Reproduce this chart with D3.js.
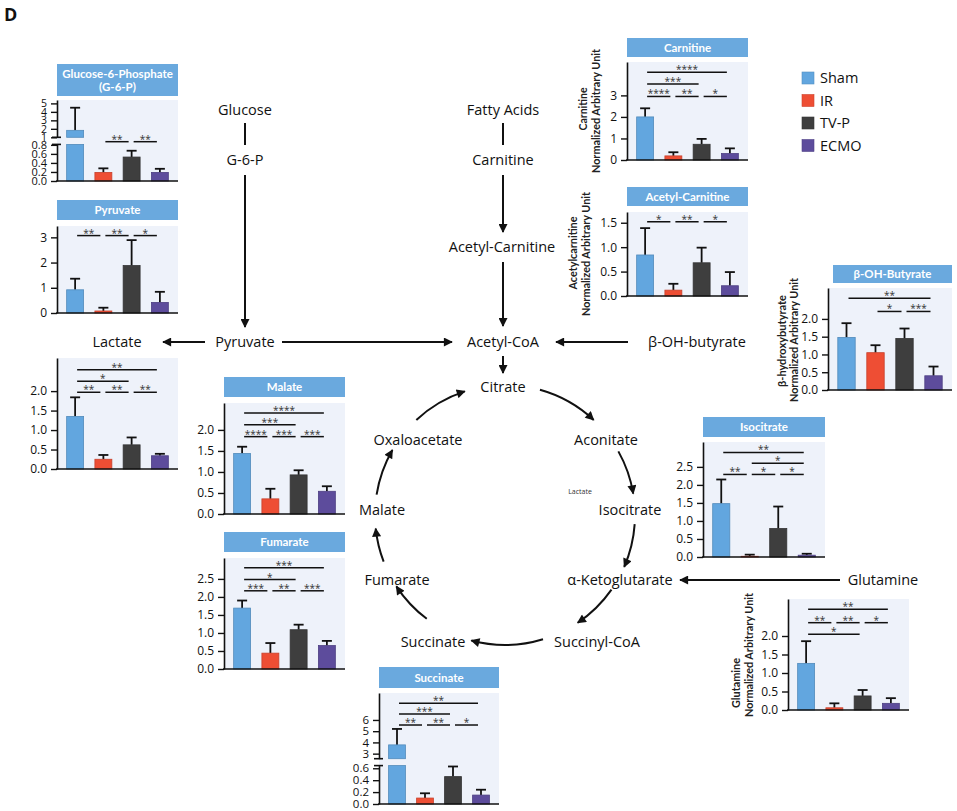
<!DOCTYPE html>
<html><head><meta charset="utf-8">
<script src="https://cdn.jsdelivr.net/npm/d3@7"></script>
<style>body{margin:0;background:#fff} svg{display:block}</style>
</head><body>
<svg id="c" width="957" height="811"></svg>
<script>
// ---------------- DATA ----------------
const groups = ["Sham", "IR", "TV-P", "ECMO"];

const g6pMean = [1.82, 0.19, 0.53, 0.19];
const g6pErr  = [2.67, 0.09, 0.14, 0.08];
const g6pTicksLow  = [0, 0.2, 0.4, 0.6, 0.8];
const g6pTicksHigh = [1, 2, 3, 4, 5];
const g6pSig = [[1, 2, "**", 0.87], [2, 3, "**", 0.87]];

const pyruvateMean = [0.92, 0.08, 1.88, 0.42];
const pyruvateErr  = [0.44, 0.13, 1.01, 0.42];
const pyruvateTicks = [0, 1, 2, 3];
const pyruvateSig = [[0, 1, "**", 3.07], [1, 2, "**", 3.07], [2, 3, "*", 3.07]];

const lactateMean = [1.35, 0.25, 0.62, 0.34];
const lactateErr  = [0.49, 0.11, 0.19, 0.05];
const lactateTicks = [0, 0.5, 1.0, 1.5, 2.0];
const lactateSig = [[0, 3, "**", 2.55], [0, 2, "*", 2.25], [0, 1, "**", 1.97], [1, 2, "**", 1.97], [2, 3, "**", 1.97]];

const carnitineMean = [2.0, 0.19, 0.73, 0.30];
const carnitineErr  = [0.40, 0.17, 0.25, 0.24];
const carnitineTicks = [0, 1, 2, 3];
const carnitineSig = [[0, 3, "****", 4.07], [0, 2, "***", 3.53], [0, 1, "****", 2.95], [1, 2, "**", 2.95], [2, 3, "*", 2.95]];

const acCarnMean = [0.84, 0.12, 0.68, 0.21];
const acCarnErr  = [0.55, 0.13, 0.31, 0.28];
const acCarnTicks = [0, 0.5, 1.0, 1.5];
const acCarnSig = [[0, 1, "*", 1.52], [1, 2, "**", 1.52], [2, 3, "*", 1.52]];

const bohbMean = [1.48, 1.05, 1.45, 0.40];
const bohbErr  = [0.40, 0.21, 0.28, 0.26];
const bohbTicks = [0, 0.5, 1.0, 1.5, 2.0];
const bohbSig = [[0, 3, "**", 2.58], [1, 2, "*", 2.21], [2, 3, "***", 2.21]];

const malateMean = [1.44, 0.36, 0.93, 0.54];
const malateErr  = [0.16, 0.24, 0.11, 0.12];
const malateTicks = [0, 0.5, 1.0, 1.5, 2.0];
const malateSig = [[0, 3, "****", 2.40], [0, 2, "***", 2.12], [0, 1, "****", 1.84], [1, 2, "***", 1.84], [2, 3, "***", 1.84]];

const fumarateMean = [1.69, 0.44, 1.09, 0.65];
const fumarateErr  = [0.21, 0.28, 0.14, 0.13];
const fumarateTicks = [0, 0.5, 1.0, 1.5, 2.0, 2.5];
const fumarateSig = [[0, 3, "***", 2.81], [0, 2, "*", 2.48], [0, 1, "***", 2.17], [1, 2, "**", 2.17], [2, 3, "***", 2.17]];

const isocitrateMean = [1.48, 0.02, 0.79, 0.05];
const isocitrateErr  = [0.67, 0.045, 0.61, 0.04];
const isocitrateTicks = [0, 0.5, 1.0, 1.5, 2.0, 2.5];
const isocitrateSig = [[0, 3, "**", 2.90], [1, 3, "*", 2.60], [0, 1, "**", 2.29], [1, 2, "*", 2.29], [2, 3, "*", 2.29]];

const glutamineMean = [1.26, 0.06, 0.38, 0.18];
const glutamineErr  = [0.60, 0.12, 0.16, 0.14];
const glutamineTicks = [0, 0.5, 1.0, 1.5, 2.0];
const glutamineSig = [[0, 3, "**", 2.72], [0, 1, "**", 2.36], [1, 2, "**", 2.36], [2, 3, "*", 2.36], [0, 2, "*", 2.05]];

const succinateMean = [3.78, 0.10, 0.46, 0.15];
const succinateErr  = [1.42, 0.08, 0.17, 0.09];
const succinateTicksLow  = [0, 0.2, 0.4, 0.6];
const succinateTicksHigh = [3, 4, 5, 6];
const succinateSig = [[0, 3, "**", 7.48], [0, 2, "***", 6.53], [0, 1, "**", 5.55], [1, 2, "**", 5.55], [2, 3, "*", 5.55]];

// ---------------- STYLE ----------------
const colors = { "Sham": "#62a6df", "IR": "#ee4e34", "TV-P": "#3e3e3e", "ECMO": "#5d4c9c" };
const FONT = "'Open Sans', 'Noto Sans', sans-serif";
const TFONT = "Lato, 'Open Sans', sans-serif";
const BG = "#eef2fa";
const TITLEBG = "#6aa9de";

const svg = d3.select("#c");
svg.append("rect").attr("width", 957).attr("height", 811).attr("fill", "#fff");

const defs = svg.append("defs");
defs.append("marker").attr("id", "ah").attr("viewBox", "0 0 10 10")
  .attr("refX", 9).attr("refY", 5).attr("markerWidth", 11).attr("markerHeight", 9)
  .attr("markerUnits", "userSpaceOnUse").attr("orient", "auto")
  .append("path").attr("d", "M0,0 L10,5 L0,10 z").attr("fill", "#111");

// ---------------- PANEL DRAWING ----------------
function styleAxis(a, fs) {
  a.select(".domain").attr("stroke", "#111").attr("stroke-width", 1.6);
  a.selectAll(".tick line").attr("stroke", "#111").attr("stroke-width", 1.4);
  a.selectAll(".tick text").attr("font-family", FONT).attr("font-size", fs || 12).attr("fill", "#111");
}

function drawPanel(L, mean, err, sig) {
  const g = svg.append("g");
  const x = d3.scaleBand().domain(groups).range([L.ax + 4, L.right - 4]).paddingInner(0.4).paddingOuter(0.2);
  g.append("rect").attr("x", L.ax).attr("y", L.top).attr("width", L.right - L.ax).attr("height", L.base - L.top).attr("fill", BG);

  let yLow, yHigh = null;
  if (L.brk) {
    yLow = d3.scaleLinear().domain([0, L.brk.lowMax]).range([L.base, L.brk.lowTopY]);
    yHigh = d3.scaleLinear().domain([L.brk.highMin, L.brk.highMax]).range([L.brk.highBottomY, L.top]);
  } else {
    yLow = d3.scaleLinear().domain([0, L.max]).range([L.base, L.top]);
  }
  const yv = v => (yHigh && v >= L.brk.highMin) ? yHigh(v) : yLow(v);

  // title box
  if (L.title) {
    const tx0 = L.tx0 || L.ax;
    g.append("rect").attr("x", tx0).attr("y", L.ty[0]).attr("width", L.right - tx0).attr("height", L.ty[1] - L.ty[0]).attr("fill", TITLEBG);
    const n = L.title.length;
    const mid = (L.ty[0] + L.ty[1]) / 2;
    L.title.forEach((t, i) => {
      g.append("text").attr("x", (tx0 + L.right) / 2).attr("y", mid + (i - (n - 1) / 2) * 13)
        .attr("dy", "0.36em").attr("text-anchor", "middle").attr("font-family", TFONT)
        .attr("font-weight", "bold").attr("font-size", 11.5).attr("fill", "#fff").text(t);
    });
  }

  // bars & error bars
  const bw = x.bandwidth();
  groups.forEach((k, i) => {
    const m = mean[i], e = err[i], c = colors[k];
    const stroke = d3.color(c).darker(0.5);
    const cx = x(k) + bw / 2;
    const yt = yv(m + e);
    g.append("line").attr("x1", cx).attr("x2", cx).attr("y1", yv(m)).attr("y2", yt).attr("stroke", "#111").attr("stroke-width", 1.8);
    g.append("line").attr("x1", cx - 5).attr("x2", cx + 5).attr("y1", yt).attr("y2", yt).attr("stroke", "#111").attr("stroke-width", 1.8);
    if (yHigh && m > L.brk.lowMax) {
      g.append("rect").attr("x", x(k)).attr("width", bw).attr("y", yLow(L.brk.lowMax)).attr("height", L.base - yLow(L.brk.lowMax))
        .attr("fill", c).attr("stroke", stroke).attr("stroke-width", 0.8);
      g.append("rect").attr("x", x(k)).attr("width", bw).attr("y", yHigh(m)).attr("height", yHigh(L.brk.highMin) - yHigh(m))
        .attr("fill", c).attr("stroke", stroke).attr("stroke-width", 0.8);
    } else {
      g.append("rect").attr("x", x(k)).attr("width", bw).attr("y", yLow(m)).attr("height", L.base - yLow(m))
        .attr("fill", c).attr("stroke", stroke).attr("stroke-width", 0.8);
    }
  });

  // axes
  if (!yHigh) {
    const a = g.append("g").attr("transform", `translate(${L.ax},0)`)
      .call(d3.axisLeft(yLow).tickValues(L.ticks).tickFormat(d3.format(L.fmt)).tickSize(6).tickPadding(4).tickSizeOuter(0));
    styleAxis(a, 12);
  } else {
    const a1 = g.append("g").attr("transform", `translate(${L.ax},0)`)
      .call(d3.axisLeft(yLow).tickValues(L.ticks).tickFormat(d3.format(L.fmt)).tickSize(6).tickPadding(4).tickSizeOuter(0));
    styleAxis(a1, L.lowFs || 12);
    const a2 = g.append("g").attr("transform", `translate(${L.ax},0)`)
      .call(d3.axisLeft(yHigh).tickValues(L.ticksHigh).tickFormat(d3.format(L.fmtHigh)).tickSize(6).tickPadding(4).tickSizeOuter(0));
    styleAxis(a2, L.highFs || 12);
    [yLow(L.brk.lowMax), yHigh(L.brk.highMin)].forEach(yy => {
      g.append("line").attr("x1", L.ax - 5).attr("x2", L.ax + 4).attr("y1", yy).attr("y2", yy).attr("stroke", "#111").attr("stroke-width", 1.6);
    });
  }
  g.append("line").attr("x1", L.ax - 1).attr("x2", L.right).attr("y1", L.base).attr("y2", L.base).attr("stroke", "#111").attr("stroke-width", 1.6);

  // significance
  sig.forEach(([a, b, lab, lv]) => {
    const x1 = x(groups[a]) + bw / 2 + 2, x2 = x(groups[b]) + bw / 2 - 3, y = yv(lv);
    g.append("line").attr("x1", x1).attr("x2", x2).attr("y1", y).attr("y2", y).attr("stroke", "#111").attr("stroke-width", 1.5);
    g.append("text").attr("x", (x1 + x2) / 2).attr("y", y + 1).attr("text-anchor", "middle")
      .attr("font-family", FONT).attr("font-size", 10).attr("fill", "#333").text(lab);
  });

  // y titles
  (L.ylab || []).forEach(t => {
    g.append("text").attr("transform", `translate(${t.x},${t.y}) rotate(-90)`).attr("dy", "0.35em")
      .attr("text-anchor", "middle").attr("font-family", TFONT).attr("font-weight", "bold").attr("font-size", 11.5)
      .attr("fill", "#222").attr("textLength", t.len).attr("lengthAdjust", "spacingAndGlyphs").text(t.text);
  });
}

// ---------------- LAYOUT ----------------
drawPanel({ ax: 57, right: 178, top: 100, base: 181, fmt: ".1f", fmtHigh: "d", ticks: g6pTicksLow, ticksHigh: g6pTicksHigh,
  brk: { lowMax: 0.81, lowTopY: 144.4, highMin: 1.0, highMax: 5.4, highBottomY: 137.3 }, lowFs: 11, highFs: 10.5,
  title: ["Glucose-6-Phosphate", "(G-6-P)"], ty: [64, 96] }, g6pMean, g6pErr, g6pSig);

drawPanel({ ax: 57, right: 178, top: 226, base: 313, max: 3.45, fmt: "d", ticks: pyruvateTicks,
  title: ["Pyruvate"], ty: [200, 220] }, pyruvateMean, pyruvateErr, pyruvateSig);

drawPanel({ ax: 57, right: 178, top: 358, base: 469, max: 2.85, fmt: ".1f", ticks: lactateTicks },
  lactateMean, lactateErr, lactateSig);

drawPanel({ ax: 627, right: 748, top: 62, base: 160, max: 4.55, fmt: "d", ticks: carnitineTicks,
  title: ["Carnitine"], ty: [38, 57],
  ylab: [{ text: "Carnitine", x: 583, y: 109, len: 43 }, { text: "Normalized Arbitrary Unit", x: 596, y: 111, len: 124 }] },
  carnitineMean, carnitineErr, carnitineSig);

drawPanel({ ax: 627, right: 748, top: 212, base: 296, max: 1.72, fmt: ".1f", ticks: acCarnTicks,
  title: ["Acetyl-Carnitine"], ty: [187, 206],
  ylab: [{ text: "Acetylcarnitine", x: 573, y: 253, len: 73 }, { text: "Normalized Arbitrary Unit", x: 586, y: 254, len: 124 }] },
  acCarnMean, acCarnErr, acCarnSig);

drawPanel({ ax: 828, right: 952, top: 288, base: 390, max: 2.87, fmt: ".1f", ticks: bohbTicks,
  title: ["β-OH-Butyrate"], ty: [265, 283], tx0: 833,
  ylab: [{ text: "β-hydroxybutyrate", x: 782, y: 341, len: 92 }, { text: "Normalized Arbitrary Unit", x: 794, y: 340, len: 124 }] },
  bohbMean, bohbErr, bohbSig);

drawPanel({ ax: 224, right: 345, top: 403, base: 514, max: 2.64, fmt: ".1f", ticks: malateTicks,
  title: ["Malate"], ty: [377, 397] }, malateMean, malateErr, malateSig);

drawPanel({ ax: 224, right: 345, top: 558, base: 669, max: 3.08, fmt: ".1f", ticks: fumarateTicks,
  title: ["Fumarate"], ty: [532, 552] }, fumarateMean, fumarateErr, fumarateSig);

drawPanel({ ax: 703, right: 825, top: 442, base: 557, max: 3.19, fmt: ".1f", ticks: isocitrateTicks,
  title: ["Isocitrate"], ty: [417, 437] }, isocitrateMean, isocitrateErr, isocitrateSig);

drawPanel({ ax: 788, right: 909, top: 599, base: 710, max: 3.0, fmt: ".1f", ticks: glutamineTicks,
  ylab: [{ text: "Glutamine", x: 736, y: 683, len: 50 }, { text: "Normalized Arbitrary Unit", x: 749, y: 655, len: 124 }] },
  glutamineMean, glutamineErr, glutamineSig);

drawPanel({ ax: 379, right: 499, top: 693, base: 804, fmt: ".1f", fmtHigh: "d", ticks: succinateTicksLow, ticksHigh: succinateTicksHigh,
  brk: { lowMax: 0.645, lowTopY: 765.6, highMin: 2.55, highMax: 8.4, highBottomY: 758.7 }, lowFs: 11.5, highFs: 11.5,
  title: ["Succinate"], ty: [667, 688] }, succinateMean, succinateErr, succinateSig);

// ---------------- PATHWAY ----------------
const pathLabels = [
  ["Glucose", 245, 110], ["G-6-P", 245, 160], ["Fatty Acids", 503, 110], ["Carnitine", 503, 160],
  ["Acetyl-Carnitine", 502, 247], ["Lactate", 117, 342], ["Pyruvate", 245, 342], ["Acetyl-CoA", 503, 342],
  ["β-OH-butyrate", 697, 342], ["Citrate", 503, 387], ["Oxaloacetate", 418, 440], ["Aconitate", 606, 440],
  ["Isocitrate", 630, 510], ["Malate", 382, 510], ["α-Ketoglutarate", 620, 580], ["Glutamine", 883, 580],
  ["Fumarate", 397, 580], ["Succinate", 433, 642], ["Succinyl-CoA", 597, 642]
];
pathLabels.forEach(([t, px, py]) => {
  svg.append("text").attr("x", px).attr("y", py).attr("dy", "0.35em").attr("text-anchor", "middle")
    .attr("font-family", FONT).attr("font-size", 14.5).attr("fill", "#111").text(t);
});
svg.append("text").attr("x", 580).attr("y", 492).attr("dy", "0.35em").attr("text-anchor", "middle")
  .attr("font-family", FONT).attr("font-size", 7).attr("fill", "#333").text("Lactate");
svg.append("text").attr("x", 4).attr("y", 21).attr("font-family", FONT).attr("font-weight", "bold")
  .attr("font-size", 18).attr("fill", "#111").text("D");

const straight = [
  [245, 123, 245, 145, false], [245, 175, 245, 327, true], [503, 123, 503, 145, false], [503, 175, 503, 232, true],
  [503, 262, 503, 326, true], [205, 342, 163, 342, true], [282, 342, 452, 342, true], [628, 342, 556, 342, true],
  [503, 356, 503, 373, true], [840, 580, 680, 580, true]
];
straight.forEach(([x1, y1, x2, y2, head]) => {
  const l = svg.append("line").attr("x1", x1).attr("y1", y1).attr("x2", x2).attr("y2", y2)
    .attr("stroke", "#111").attr("stroke-width", 2);
  if (head) l.attr("marker-end", "url(#ah)");
});

const cyc = { cx: 505, cy: 515, r: 130 };
const arcs = [[15.6, 43], [60.7, 80.5], [94, 113.5], [125, 146], [163, 195], [217, 236.7], [249, 264], [279, 300], [317, 342]];
const pt = a => { const t = a * Math.PI / 180; return [cyc.cx + cyc.r * Math.sin(t), cyc.cy - cyc.r * Math.cos(t)]; };
arcs.forEach(([a0, a1]) => {
  const p0 = pt(a0), p1 = pt(a1);
  svg.append("path").attr("d", `M${p0[0]},${p0[1]} A${cyc.r},${cyc.r} 0 0 1 ${p1[0]},${p1[1]}`)
    .attr("fill", "none").attr("stroke", "#111").attr("stroke-width", 2).attr("marker-end", "url(#ah)");
});

// ---------------- LEGEND ----------------
groups.forEach((k, i) => {
  const ly = 78 + i * 22.5;
  svg.append("rect").attr("x", 802).attr("y", ly - 6).attr("width", 12).attr("height", 12)
    .attr("fill", colors[k]).attr("stroke", d3.color(colors[k]).darker(0.4)).attr("stroke-width", 0.6);
  svg.append("text").attr("x", 820).attr("y", ly).attr("dy", "0.35em").attr("font-family", FONT)
    .attr("font-size", 14.5).attr("fill", "#111").text(k);
});
</script>
</body></html>
